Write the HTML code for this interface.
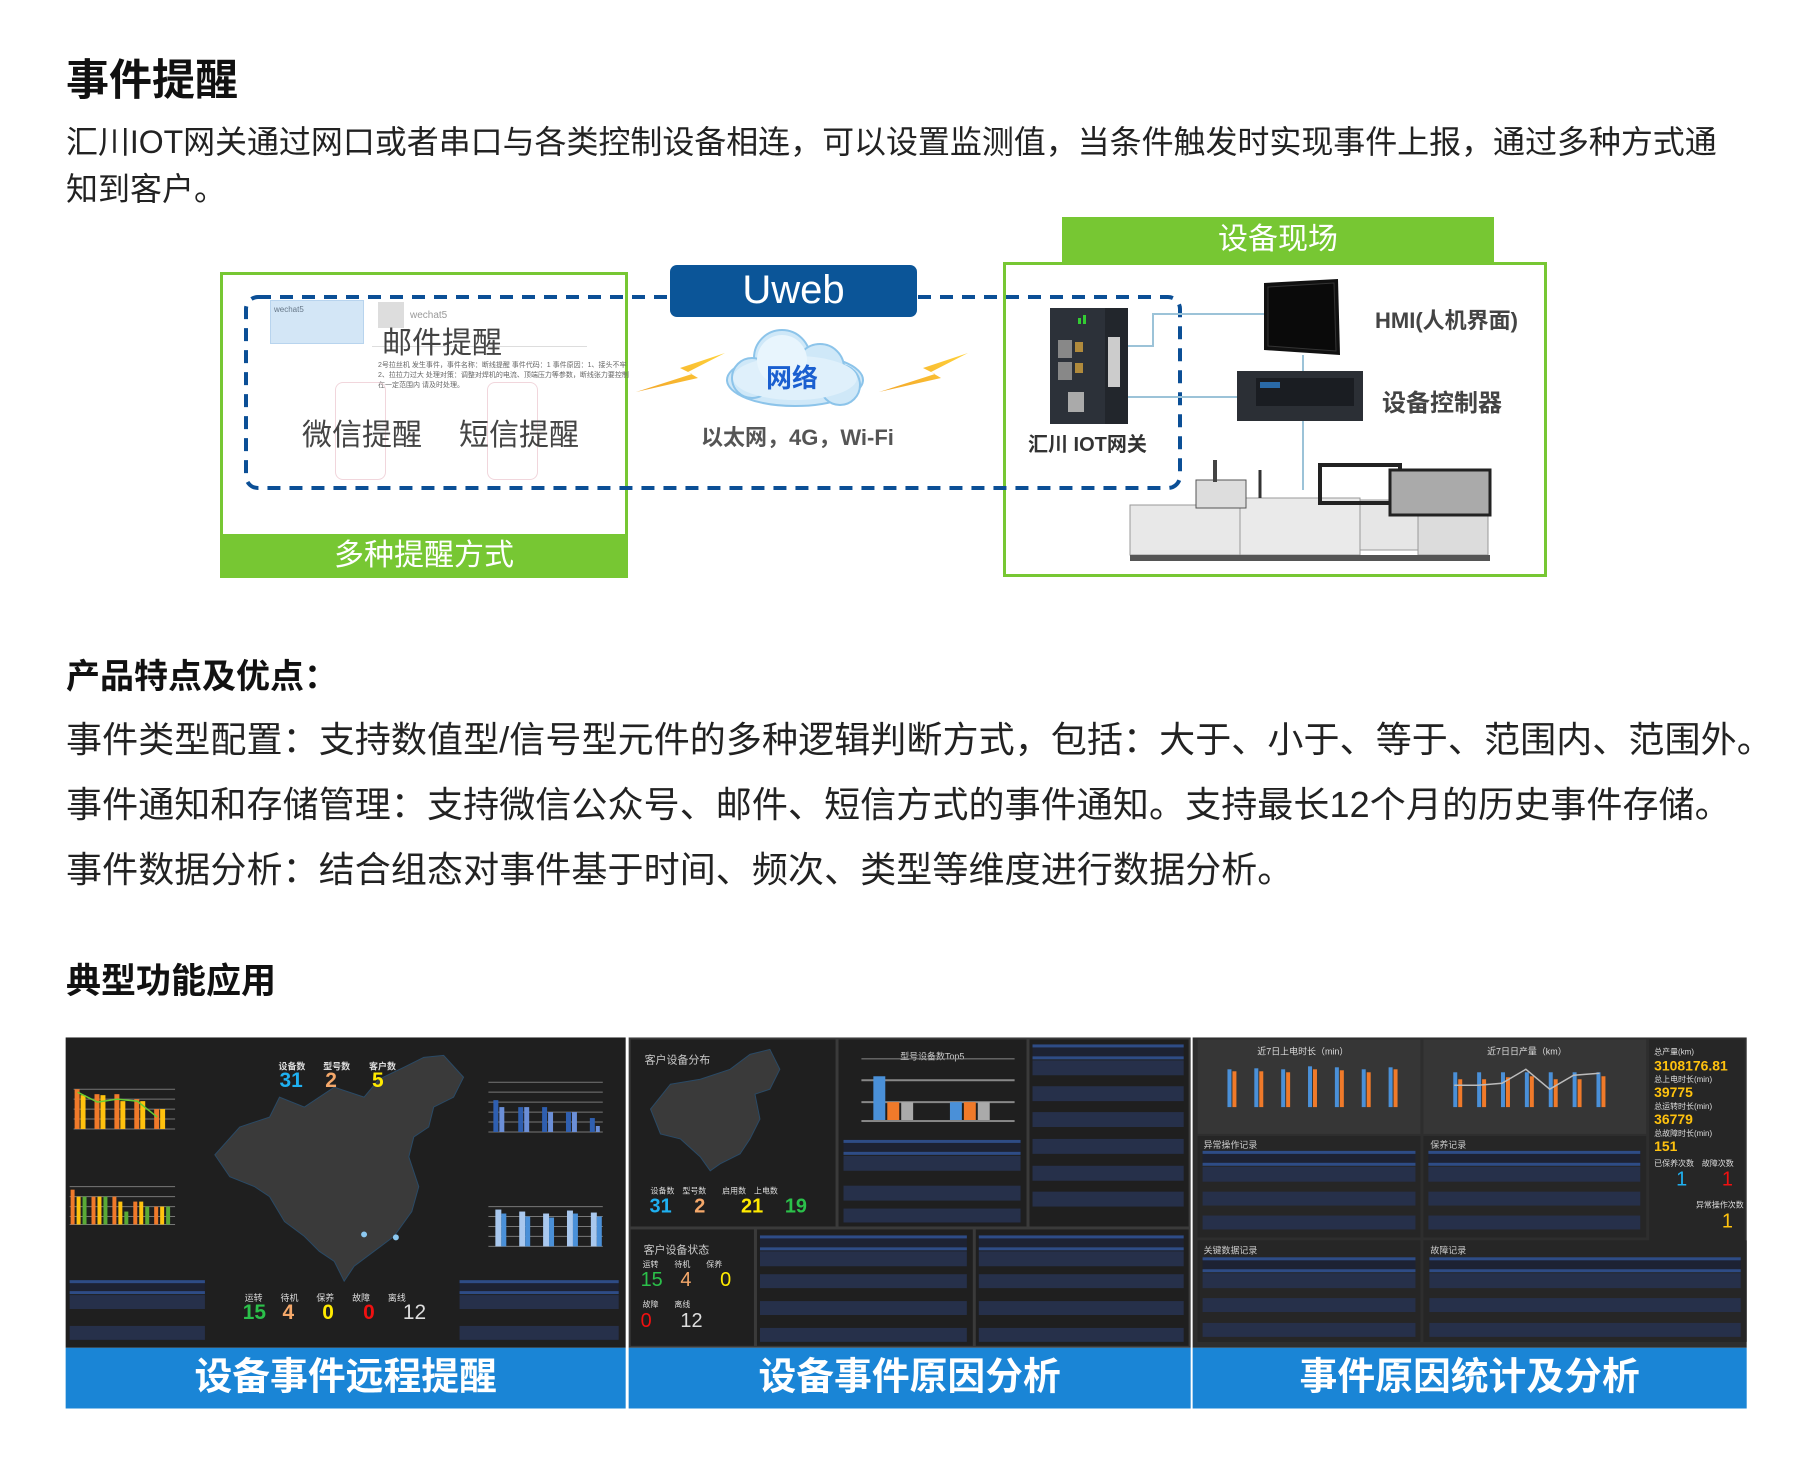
<!DOCTYPE html>
<html><head><meta charset="utf-8"><style>
*{margin:0;padding:0;box-sizing:border-box}
body{width:1800px;height:1461px;background:#fff;position:relative;overflow:hidden;font-family:"Liberation Sans","Noto Sans CJK SC",sans-serif;color:#222}
.a{position:absolute}
.t{position:absolute;white-space:nowrap}
.row{position:absolute;background:#26304a}
.hd{position:absolute;border-top:3px solid #2e4c86;border-bottom:3px solid #2e4c86;background:#1d2233}
.sm{position:absolute;color:#ccc;font-size:8px;white-space:nowrap}
.cap{position:absolute;top:1355px;height:61px;background:#1a85d6;color:#fff;font-weight:bold;font-size:38px;text-align:center;line-height:61px}
#dash{position:absolute;left:0;top:0;width:1800px;height:1461px;transform:scale(0.9947);transform-origin:0 0}
</style></head><body>

<div class="t" style="left:66px;top:46px;font-size:43px;font-weight:bold;color:#111">事件提醒</div>
<div class="t" style="left:66px;top:117px;font-size:32px;color:#222;letter-spacing:-0.05px">汇川IOT网关通过网口或者串口与各类控制设备相连，可以设置监测值，当条件触发时实现事件上报，通过多种方式通</div>
<div class="t" style="left:66px;top:164px;font-size:32px;color:#222">知到客户。</div>

<!-- left box -->
<div class="a" style="left:220px;top:272px;width:408px;height:306px;border:3px solid #77c733"></div>
<div class="a" style="left:220px;top:534px;width:408px;height:44px;background:#77c733;color:#fff;font-size:30px;text-align:center;line-height:44px">多种提醒方式</div>
<div class="a" style="left:270px;top:300px;width:94px;height:44px;background:#d3e6f6;border:1px solid #b8d4ee"></div>
<div class="sm" style="left:274px;top:305px;color:#678">wechat5</div>
<div class="a" style="left:378px;top:302px;width:26px;height:26px;background:#ddd"></div>
<div class="sm" style="left:410px;top:310px;color:#999;font-size:10px">wechat5</div>
<div class="a" style="left:372px;top:346px;width:215px;height:1px;background:#ddd"></div>
<div class="sm" style="left:378px;top:360px;color:#666;font-size:7px">2号拉丝机 发生事件，事件名称：断线提醒 事件代码：1 事件原因：1、接头不牢<br>2、拉拉力过大 处理对策：调整对焊机的电流、顶端压力等参数，断线张力要控制<br>在一定范围内 请及时处理。</div>
<div class="a" style="left:335px;top:382px;width:51px;height:98px;border:1px solid #f1d6dc;border-radius:8px"></div>
<div class="a" style="left:487px;top:382px;width:51px;height:98px;border:1px solid #f1d6dc;border-radius:8px"></div>
<div class="t" style="left:382px;top:318px;font-size:30px;color:#444">邮件提醒</div>
<div class="t" style="left:302px;top:410px;font-size:30px;color:#444">微信提醒</div>
<div class="t" style="left:459px;top:410px;font-size:30px;color:#444">短信提醒</div>

<!-- right box -->
<div class="a" style="left:1062px;top:217px;width:432px;height:46px;background:#77c733;color:#fff;font-size:30px;text-align:center;line-height:46px">设备现场</div>
<div class="a" style="left:1003px;top:262px;width:544px;height:315px;border:3px solid #77c733"></div>

<svg class="a" style="left:0;top:0" width="1800" height="600">
<rect x="246" y="297" width="934" height="191" rx="12" fill="none" stroke="#0b4f96" stroke-width="4" stroke-dasharray="13 9"/>
<polyline points="1128,346 1153,346 1153,314 1264,314" fill="none" stroke="#9cc3d8" stroke-width="2"/>
<line x1="1128" y1="397" x2="1237" y2="397" stroke="#9cc3d8" stroke-width="2"/>
<line x1="1303" y1="355" x2="1303" y2="371" stroke="#9cc3d8" stroke-width="2"/>
<line x1="1303" y1="420" x2="1303" y2="490" stroke="#9cc3d8" stroke-width="2"/>
<defs><linearGradient id="g" x1="0" y1="1" x2="1" y2="0"><stop offset="0" stop-color="#f3a62a"/><stop offset="1" stop-color="#ffd23a"/></linearGradient></defs>
<polygon points="725,353 680,368 692,374 636,392 698,378 688,372" fill="url(#g)"/>
<polygon points="968,353 923,368 935,374 879,392 941,378 931,372" fill="url(#g)"/>
<g fill="#cfe8f8" stroke="#8cc4ea" stroke-width="2">
<ellipse cx="795" cy="380" rx="68" ry="26"/>
<circle cx="782" cy="358" r="28"/>
<circle cx="820" cy="368" r="24"/>
<circle cx="752" cy="378" r="20"/>
<circle cx="840" cy="385" r="20"/>
</g>
<ellipse cx="795" cy="378" rx="62" ry="22" fill="#dff0fb"/>
<circle cx="782" cy="360" r="25" fill="#e8f5fd"/>
<rect x="1050" y="308" width="78" height="116" fill="#22262c"/>
<rect x="1050" y="308" width="55" height="116" fill="#2c3139"/>
<rect x="1058" y="340" width="14" height="18" fill="#888"/><rect x="1058" y="362" width="14" height="18" fill="#888"/>
<rect x="1075" y="342" width="8" height="10" fill="#b08a3c"/><rect x="1075" y="363" width="8" height="10" fill="#b08a3c"/>
<rect x="1108" y="337" width="12" height="50" fill="#ccc"/>
<rect x="1068" y="392" width="16" height="20" fill="#aaa"/>
<rect x="1078" y="318" width="3" height="6" fill="#3c3"/><rect x="1083" y="315" width="3" height="9" fill="#3c3"/>
<polygon points="1264,283 1338,279 1340,355 1264,350" fill="#111"/>
<polygon points="1268,287 1334,283 1336,351 1268,346" fill="#0a0a0a" stroke="#333"/>
<rect x="1237" y="371" width="126" height="50" fill="#2b2f35"/>
<rect x="1256" y="378" width="98" height="28" fill="#1a1d22"/>
<rect x="1260" y="382" width="20" height="6" fill="#2a6aa8"/>
<g>
<rect x="1130" y="505" width="110" height="50" fill="#e8e8e8" stroke="#999"/>
<rect x="1240" y="498" width="120" height="57" fill="#eaeaea" stroke="#999"/>
<rect x="1360" y="500" width="58" height="50" fill="#e6e6e6" stroke="#999"/>
<rect x="1418" y="505" width="70" height="50" fill="#dcdcdc" stroke="#999"/>
<rect x="1320" y="465" width="80" height="38" fill="none" stroke="#222" stroke-width="4"/>
<rect x="1390" y="470" width="100" height="45" fill="#aaa" stroke="#222" stroke-width="3"/>
<rect x="1196" y="480" width="50" height="28" fill="#ddd" stroke="#555"/>
<line x1="1215" y1="460" x2="1215" y2="482" stroke="#444" stroke-width="4"/>
<line x1="1260" y1="470" x2="1260" y2="498" stroke="#333" stroke-width="3"/>
<rect x="1130" y="555" width="360" height="6" fill="#555"/>
</g>
</svg>
<div class="a" style="left:670px;top:265px;width:247px;height:52px;background:#0b5598;border-radius:7px;color:#fff;font-size:40px;text-align:center;line-height:50px">Uweb</div>
<div class="t" style="left:766px;top:358px;font-size:26px;font-weight:bold;color:#1a5fd0">网络</div>
<div class="t" style="left:701px;top:420px;font-size:22px;font-weight:bold;color:#555">以太网，4G，Wi-Fi</div>
<div class="t" style="left:1028px;top:428px;font-size:20px;font-weight:bold;color:#333">汇川 IOT网关</div>
<div class="t" style="left:1375px;top:303px;font-size:22px;font-weight:bold;color:#444">HMI(人机界面)</div>
<div class="t" style="left:1382px;top:383px;font-size:24px;font-weight:bold;color:#444">设备控制器</div>

<div class="t" style="left:66px;top:649px;font-size:34px;font-weight:bold;color:#111">产品特点及优点：</div>
<div class="t" style="left:66px;top:711px;font-size:36px;color:#222;letter-spacing:0.1px">事件类型配置：支持数值型/信号型元件的多种逻辑判断方式，包括：大于、小于、等于、范围内、范围外。</div>
<div class="t" style="left:66px;top:776px;font-size:36px;color:#222;letter-spacing:0.1px">事件通知和存储管理：支持微信公众号、邮件、短信方式的事件通知。支持最长12个月的历史事件存储。</div>
<div class="t" style="left:66px;top:841px;font-size:36px;color:#222;letter-spacing:0.1px">事件数据分析：结合组态对事件基于时间、频次、类型等维度进行数据分析。</div>

<div class="t" style="left:66px;top:953px;font-size:35px;font-weight:bold;color:#111">典型功能应用</div>

<div id="dash">
<!-- panel 1 -->
<div class="a" style="left:66px;top:1043px;width:563px;height:312px;background:#1f1f1f"></div>
<svg class="a" style="left:66px;top:1043px" width="563" height="312">
<path d="M150,118 L175,90 L205,80 L215,60 L240,70 L270,50 L300,60 L315,42 L340,30 L360,20 L380,18 L400,40 L390,60 L370,70 L365,90 L350,100 L345,120 L355,150 L348,175 L330,200 L310,215 L290,230 L280,245 L270,225 L255,215 L240,200 L220,185 L205,160 L190,150 L165,140 Z" fill="#3a3a3a" stroke="#2a4a66"/>
<circle cx="300" cy="198" r="3" fill="#8cc8f0"/><circle cx="332" cy="201" r="3" fill="#8cc8f0"/>
<g stroke="#777" stroke-width="1"><line x1="8" y1="52" x2="110" y2="52"/><line x1="8" y1="62" x2="110" y2="62"/><line x1="8" y1="72" x2="110" y2="72"/><line x1="8" y1="82" x2="110" y2="82"/><line x1="8" y1="92" x2="110" y2="92"/>
<line x1="4" y1="150" x2="110" y2="150"/><line x1="4" y1="160" x2="110" y2="160"/><line x1="4" y1="170" x2="110" y2="170"/><line x1="4" y1="180" x2="110" y2="180"/><line x1="4" y1="188" x2="110" y2="188"/>
<line x1="425" y1="45" x2="540" y2="45"/><line x1="425" y1="55" x2="540" y2="55"/><line x1="425" y1="65" x2="540" y2="65"/><line x1="425" y1="75" x2="540" y2="75"/><line x1="425" y1="85" x2="540" y2="85"/><line x1="425" y1="95" x2="540" y2="95"/>
<line x1="425" y1="170" x2="540" y2="170"/><line x1="425" y1="180" x2="540" y2="180"/><line x1="425" y1="190" x2="540" y2="190"/><line x1="425" y1="200" x2="540" y2="200"/><line x1="425" y1="210" x2="540" y2="210"/></g>
<g fill="#f07a2a"><rect x="9" y="52" width="5" height="40"/><rect x="29" y="57" width="5" height="35"/><rect x="49" y="57" width="5" height="35"/><rect x="69" y="62" width="5" height="30"/><rect x="89" y="72" width="5" height="20"/>
<rect x="5" y="153" width="4" height="35"/><rect x="26" y="160" width="4" height="28"/><rect x="47" y="160" width="4" height="28"/><rect x="68" y="165" width="4" height="23"/><rect x="89" y="170" width="4" height="18"/></g>
<g fill="#ffc20e"><rect x="15" y="58" width="5" height="34"/><rect x="35" y="58" width="5" height="34"/><rect x="55" y="64" width="5" height="28"/><rect x="75" y="64" width="5" height="28"/><rect x="95" y="72" width="5" height="20"/>
<rect x="11" y="160" width="4" height="28"/><rect x="32" y="160" width="4" height="28"/><rect x="53" y="165" width="4" height="23"/><rect x="74" y="165" width="4" height="23"/><rect x="95" y="170" width="4" height="18"/></g>
<g fill="#5aaa36"><rect x="17" y="160" width="4" height="28"/><rect x="38" y="160" width="4" height="28"/><rect x="59" y="175" width="4" height="13"/><rect x="80" y="170" width="4" height="18"/><rect x="101" y="170" width="4" height="18"/></g>
<polyline points="12,55 32,65 52,62 72,64 92,80" fill="none" stroke="#6c3" stroke-width="1.5"/>
<g fill="#2f5fb0"><rect x="430" y="63" width="5" height="32"/><rect x="455" y="70" width="5" height="25"/><rect x="479" y="70" width="5" height="25"/><rect x="503" y="75" width="5" height="20"/><rect x="527" y="81" width="5" height="14"/></g>
<g fill="#6b8fd8"><rect x="436" y="70" width="5" height="25"/><rect x="461" y="70" width="5" height="25"/><rect x="485" y="75" width="5" height="20"/><rect x="509" y="75" width="5" height="20"/><rect x="533" y="89" width="4" height="6"/></g>
<g fill="#a9c8ee"><rect x="432" y="173" width="6" height="37"/><rect x="456" y="175" width="6" height="35"/><rect x="480" y="177" width="6" height="33"/><rect x="504" y="174" width="6" height="36"/><rect x="528" y="176" width="6" height="34"/></g>
<g fill="#4a90d8"><rect x="438" y="177" width="5" height="33"/><rect x="462" y="180" width="5" height="30"/><rect x="486" y="181" width="5" height="29"/><rect x="510" y="177" width="5" height="33"/><rect x="534" y="180" width="5" height="30"/></g>
</svg>
<div class="t" style="left:280px;top:1065px;font-size:9px;color:#ddd;font-weight:bold">设备数</div>
<div class="t" style="left:325px;top:1065px;font-size:9px;color:#ddd;font-weight:bold">型号数</div>
<div class="t" style="left:371px;top:1065px;font-size:9px;color:#ddd;font-weight:bold">客户数</div>
<div class="t" style="left:281px;top:1075px;font-size:21px;color:#1fb0f0;font-weight:bold">31</div>
<div class="t" style="left:327px;top:1075px;font-size:21px;color:#f5a86a;font-weight:bold">2</div>
<div class="t" style="left:374px;top:1075px;font-size:21px;color:#ffea00;font-weight:bold">5</div>
<div class="t" style="left:246px;top:1298px;font-size:9px;color:#ddd">运转　　待机　　保养　　故障　　离线</div>
<div class="t" style="left:244px;top:1308px;font-size:21px;color:#2bc04a;font-weight:bold">15</div>
<div class="t" style="left:284px;top:1308px;font-size:21px;color:#f5a86a;font-weight:bold">4</div>
<div class="t" style="left:324px;top:1308px;font-size:21px;color:#ffea00;font-weight:bold">0</div>
<div class="t" style="left:365px;top:1308px;font-size:21px;color:#f01010;font-weight:bold">0</div>
<div class="t" style="left:405px;top:1308px;font-size:21px;color:#ddd">12</div>
<div class="hd" style="left:70px;top:1287px;width:136px;height:14px"></div>
<div class="row" style="left:70px;top:1302px;width:136px;height:14px"></div>
<div class="row" style="left:70px;top:1333px;width:136px;height:14px"></div>
<div class="hd" style="left:462px;top:1287px;width:160px;height:14px"></div>
<div class="row" style="left:462px;top:1302px;width:160px;height:14px"></div>
<div class="row" style="left:462px;top:1333px;width:160px;height:14px"></div>
<div class="cap" style="left:66px;width:563px">设备事件远程提醒</div>

<!-- panel 2 -->
<div class="a" style="left:632px;top:1043px;width:565px;height:312px;background:#3a3a3a"></div>
<div class="a" style="left:634px;top:1045px;width:206px;height:188px;background:#1f1f1f"></div>
<div class="a" style="left:843px;top:1045px;width:189px;height:188px;background:#1f1f1f"></div>
<div class="a" style="left:1035px;top:1045px;width:160px;height:188px;background:#1f1f1f"></div>
<div class="a" style="left:634px;top:1236px;width:124px;height:117px;background:#1f1f1f"></div>
<div class="a" style="left:761px;top:1236px;width:217px;height:117px;background:#1f1f1f"></div>
<div class="a" style="left:981px;top:1236px;width:214px;height:117px;background:#1f1f1f"></div>
<svg class="a" style="left:634px;top:1045px" width="206" height="188">
<path d="M20,70 L40,45 L70,40 L100,30 L120,15 L140,10 L150,30 L140,50 L125,55 L130,80 L120,100 L110,115 L90,125 L80,132 L70,118 L50,100 L30,95 Z" fill="#3a3a3a" stroke="#2a4a66"/>
</svg>
<div class="t" style="left:648px;top:1057px;font-size:11px;color:#ccc">客户设备分布</div>
<div class="t" style="left:654px;top:1192px;font-size:8px;color:#ddd">设备数　型号数　　启用数　上电数</div>
<div class="t" style="left:653px;top:1202px;font-size:20px;color:#1fb0f0;font-weight:bold">31</div>
<div class="t" style="left:698px;top:1202px;font-size:20px;color:#f5a86a;font-weight:bold">2</div>
<div class="t" style="left:745px;top:1202px;font-size:20px;color:#ffea00;font-weight:bold">21</div>
<div class="t" style="left:789px;top:1202px;font-size:20px;color:#2bc04a;font-weight:bold">19</div>
<div class="t" style="left:905px;top:1055px;font-size:9px;color:#ccc">型号设备数Top5</div>
<div class="a" style="left:866px;top:1064px;width:154px;height:1px;background:#888"></div>
<div class="a" style="left:866px;top:1085px;width:154px;height:2px;background:#888"></div>
<div class="a" style="left:866px;top:1107px;width:154px;height:2px;background:#888"></div>
<div class="a" style="left:878px;top:1082px;width:12px;height:44px;background:#4a90d8"></div>
<div class="a" style="left:892px;top:1108px;width:12px;height:18px;background:#f07a2a"></div>
<div class="a" style="left:906px;top:1108px;width:12px;height:18px;background:#aaa"></div>
<div class="a" style="left:955px;top:1108px;width:12px;height:18px;background:#4a90d8"></div>
<div class="a" style="left:969px;top:1108px;width:12px;height:18px;background:#f07a2a"></div>
<div class="a" style="left:983px;top:1108px;width:12px;height:18px;background:#aaa"></div>
<div class="a" style="left:866px;top:1126px;width:154px;height:2px;background:#888"></div>
<div class="hd" style="left:848px;top:1146px;width:178px;height:15px"></div>
<div class="row" style="left:848px;top:1162px;width:178px;height:15px"></div>
<div class="row" style="left:848px;top:1192px;width:178px;height:15px"></div>
<div class="row" style="left:848px;top:1215px;width:178px;height:14px"></div>
<div class="hd" style="left:1038px;top:1050px;width:152px;height:15px"></div>
<div class="row" style="left:1038px;top:1066px;width:152px;height:15px"></div>
<div class="row" style="left:1038px;top:1092px;width:152px;height:15px"></div>
<div class="row" style="left:1038px;top:1118px;width:152px;height:15px"></div>
<div class="row" style="left:1038px;top:1145px;width:152px;height:15px"></div>
<div class="row" style="left:1038px;top:1172px;width:152px;height:15px"></div>
<div class="row" style="left:1038px;top:1198px;width:152px;height:15px"></div>
<div class="t" style="left:647px;top:1248px;font-size:11px;color:#ccc">客户设备状态</div>
<div class="t" style="left:646px;top:1266px;font-size:8px;color:#ddd">运转　　待机　　保养</div>
<div class="t" style="left:644px;top:1276px;font-size:20px;color:#2bc04a">15</div>
<div class="t" style="left:684px;top:1276px;font-size:20px;color:#f5a86a">4</div>
<div class="t" style="left:724px;top:1276px;font-size:20px;color:#ffea00">0</div>
<div class="t" style="left:646px;top:1306px;font-size:8px;color:#ddd">故障　　离线</div>
<div class="t" style="left:644px;top:1317px;font-size:20px;color:#f01010">0</div>
<div class="t" style="left:684px;top:1317px;font-size:20px;color:#ddd">12</div>
<div class="hd" style="left:764px;top:1242px;width:208px;height:15px"></div>
<div class="row" style="left:764px;top:1258px;width:208px;height:15px"></div>
<div class="row" style="left:764px;top:1281px;width:208px;height:14px"></div>
<div class="row" style="left:764px;top:1308px;width:208px;height:14px"></div>
<div class="row" style="left:764px;top:1335px;width:208px;height:14px"></div>
<div class="hd" style="left:984px;top:1242px;width:206px;height:15px"></div>
<div class="row" style="left:984px;top:1258px;width:206px;height:15px"></div>
<div class="row" style="left:984px;top:1281px;width:206px;height:14px"></div>
<div class="row" style="left:984px;top:1308px;width:206px;height:14px"></div>
<div class="row" style="left:984px;top:1335px;width:206px;height:14px"></div>
<div class="cap" style="left:632px;width:565px">设备事件原因分析</div>

<!-- panel 3 -->
<div class="a" style="left:1199px;top:1043px;width:557px;height:312px;background:#2e2e2e"></div>
<div class="a" style="left:1204px;top:1045px;width:224px;height:95px;background:#363636"></div>
<div class="a" style="left:1431px;top:1045px;width:224px;height:95px;background:#363636"></div>
<div class="a" style="left:1658px;top:1045px;width:96px;height:302px;background:#262626"></div>
<div class="t" style="left:1264px;top:1050px;font-size:9px;color:#ddd">近7日上电时长（min）</div>
<div class="t" style="left:1495px;top:1050px;font-size:9px;color:#ddd">近7日日产量（km）</div>
<svg class="a" style="left:1204px;top:1045px" width="451" height="95">
<g fill="#4a90d8"><rect x="30" y="30" width="4" height="38"/><rect x="57" y="29" width="4" height="39"/><rect x="84" y="30" width="4" height="38"/><rect x="111" y="27" width="4" height="41"/><rect x="138" y="28" width="4" height="40"/><rect x="165" y="30" width="4" height="38"/><rect x="192" y="28" width="4" height="40"/>
<rect x="257" y="33" width="4" height="35"/><rect x="281" y="33" width="4" height="35"/><rect x="305" y="33" width="4" height="35"/><rect x="329" y="33" width="4" height="35"/><rect x="353" y="33" width="4" height="35"/><rect x="377" y="33" width="4" height="35"/><rect x="401" y="33" width="4" height="35"/></g>
<g fill="#f07a2a"><rect x="35" y="32" width="4" height="36"/><rect x="62" y="32" width="4" height="36"/><rect x="89" y="33" width="4" height="35"/><rect x="116" y="30" width="4" height="38"/><rect x="143" y="31" width="4" height="37"/><rect x="170" y="33" width="4" height="35"/><rect x="197" y="30" width="4" height="38"/>
<rect x="262" y="40" width="4" height="28"/><rect x="286" y="40" width="4" height="28"/><rect x="310" y="38" width="4" height="30"/><rect x="334" y="37" width="4" height="31"/><rect x="358" y="40" width="4" height="28"/><rect x="382" y="40" width="4" height="28"/><rect x="406" y="37" width="4" height="31"/></g>
<polyline points="258,46 282,46 306,44 330,30 354,50 378,36 404,34" fill="none" stroke="#bbb" stroke-width="1.5"/>
</svg>
<div class="t" style="left:1663px;top:1052px;font-size:8px;color:#ddd;line-height:11px">总产量(km)</div>
<div class="t" style="left:1663px;top:1063px;font-size:14px;color:#ffc20e;font-weight:bold">3108176.81</div>
<div class="t" style="left:1663px;top:1080px;font-size:8px;color:#ddd">总上电时长(min)</div>
<div class="t" style="left:1663px;top:1090px;font-size:14px;color:#ffc20e;font-weight:bold">39775</div>
<div class="t" style="left:1663px;top:1107px;font-size:8px;color:#ddd">总运转时长(min)</div>
<div class="t" style="left:1663px;top:1117px;font-size:14px;color:#ffc20e;font-weight:bold">36779</div>
<div class="t" style="left:1663px;top:1134px;font-size:8px;color:#ddd">总故障时长(min)</div>
<div class="t" style="left:1663px;top:1144px;font-size:14px;color:#ffc20e;font-weight:bold">151</div>
<div class="t" style="left:1663px;top:1164px;font-size:8px;color:#ddd">已保养次数　故障次数</div>
<div class="t" style="left:1685px;top:1175px;font-size:20px;color:#1fb0f0">1</div>
<div class="t" style="left:1731px;top:1175px;font-size:20px;color:#f01010">1</div>
<div class="t" style="left:1705px;top:1206px;font-size:8px;color:#ddd">异常操作次数</div>
<div class="t" style="left:1731px;top:1217px;font-size:20px;color:#ffc20e">1</div>
<div class="a" style="left:1204px;top:1142px;width:224px;height:102px;background:#262626"></div>
<div class="a" style="left:1431px;top:1142px;width:224px;height:102px;background:#262626"></div>
<div class="a" style="left:1204px;top:1247px;width:224px;height:102px;background:#262626"></div>
<div class="a" style="left:1431px;top:1247px;width:325px;height:102px;background:#262626"></div>
<div class="t" style="left:1210px;top:1144px;font-size:9px;color:#ccc">异常操作记录</div>
<div class="t" style="left:1438px;top:1144px;font-size:9px;color:#ccc">保养记录</div>
<div class="t" style="left:1210px;top:1250px;font-size:9px;color:#ccc">关键数据记录</div>
<div class="t" style="left:1438px;top:1250px;font-size:9px;color:#ccc">故障记录</div>
<div class="hd" style="left:1209px;top:1157px;width:214px;height:15px"></div>
<div class="row" style="left:1209px;top:1173px;width:214px;height:15px"></div>
<div class="row" style="left:1209px;top:1198px;width:214px;height:14px"></div>
<div class="row" style="left:1209px;top:1222px;width:214px;height:14px"></div>
<div class="hd" style="left:1436px;top:1157px;width:213px;height:15px"></div>
<div class="row" style="left:1436px;top:1173px;width:213px;height:15px"></div>
<div class="row" style="left:1436px;top:1198px;width:213px;height:14px"></div>
<div class="row" style="left:1436px;top:1222px;width:213px;height:14px"></div>
<div class="hd" style="left:1209px;top:1264px;width:214px;height:15px"></div>
<div class="row" style="left:1209px;top:1280px;width:214px;height:15px"></div>
<div class="row" style="left:1209px;top:1305px;width:214px;height:14px"></div>
<div class="row" style="left:1209px;top:1330px;width:214px;height:14px"></div>
<div class="hd" style="left:1437px;top:1264px;width:313px;height:15px"></div>
<div class="row" style="left:1437px;top:1280px;width:313px;height:15px"></div>
<div class="row" style="left:1437px;top:1305px;width:313px;height:14px"></div>
<div class="row" style="left:1437px;top:1330px;width:313px;height:14px"></div>
<div class="cap" style="left:1199px;width:557px">事件原因统计及分析</div>
</div>
</body></html>
